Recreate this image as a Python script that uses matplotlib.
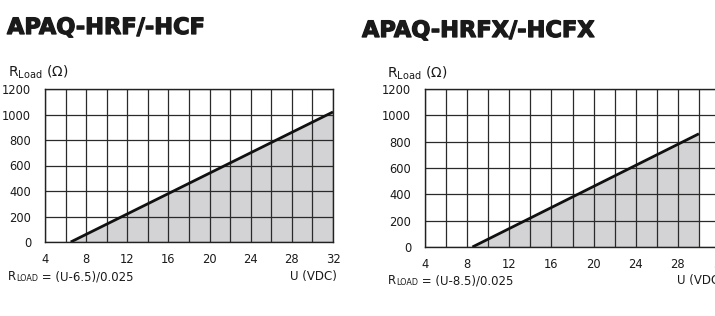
import matplotlib
matplotlib.use("Agg")
import matplotlib.pyplot as plt
import matplotlib.patheffects as pe

plt.rcParams['font.family'] = ['DejaVu Sans']

# data
titles = ["APAQ-HRF/-HCF", "APAQ-HRFX/-HCFX"]
formulas = [" = (U-6.5)/0.025", " = (U-8.5)/0.025"]
u_left = [6.5, 32]
r_left = [0, 1020]
u_right = [8.5, 30]
r_right = [0, 860]
x_ticks = [4, 8, 12, 16, 20, 24, 28, 32]
y_ticks = [0, 200, 400, 600, 800, 1000, 1200]

W, H = 715, 316
fig = plt.figure(figsize=(W / 100, H / 100), dpi=100)

def px(l, t, r, b):
    return [l / W, 1 - b / H, (r - l) / W, (b - t) / H]

axes_rects = [px(45, 89, 333, 242), px(425, 89, 720, 247)]
series = [(u_left, r_left), (u_right, r_right)]
title_pos = [(7, 28), (362, 31)]
ylab_pos = [(8, 72), (387, 73)]
form_pos = [(8, 280), (388, 284)]
ux_right = [337, 724]

fill_col = '#d3d3d6'
grid_col = '#2a2a2a'
txt_col = '#1a1a1a'

for i in range(2):
    ax = fig.add_axes(axes_rects[i])
    u, r = series[i]
    ax.fill_between(u, r, 0, color=fill_col, lw=0, zorder=1)
    ax.plot(u, r, color='#111111', lw=2.0, zorder=3, solid_capstyle='butt')
    ax.set_xlim(4, 32)
    ax.set_ylim(0, 1200)
    ax.set_xticks(range(4, 33, 2), minor=False)
    ax.set_yticks(y_ticks)
    ax.grid(True, color=grid_col, lw=0.9, zorder=2)
    ax.set_axisbelow(False)
    ax.set_xticklabels([str(v) if v in x_ticks else '' for v in range(4, 33, 2)])
    ax.tick_params(length=0, labelsize=8.3, colors=txt_col, pad=8)
    ax.tick_params(axis='y', pad=10)
    for s in ax.spines.values():
        s.set_color('#222222')
        s.set_linewidth(1.0)
        s.set_zorder(4)

    tx, ty = title_pos[i]
    fig.text(tx / W, 1 - ty / H, titles[i], fontsize=16.2, fontweight='bold',
             color=txt_col, va='center', ha='left',
             path_effects=[pe.withStroke(linewidth=0.9, foreground=txt_col)])
    lx, ly = ylab_pos[i]
    fig.text(lx / W, 1 - ly / H, r'R$_{\mathregular{Load}}$ ($\Omega$)', fontsize=10,
             color=txt_col, va='center', ha='left')
    fx, fy = form_pos[i]
    t1 = fig.text(fx / W, 1 - fy / H, 'R', fontsize=8.5, color=txt_col,
                  va='baseline', ha='left')
    a2 = fig.add_artist(matplotlib.text.Annotation('LOAD', xy=(1, 0), xycoords=t1,
                        fontsize=5.8, color=txt_col, va='bottom', ha='left'))
    fig.add_artist(matplotlib.text.Annotation(formulas[i], xy=(1, 0), xycoords=a2,
                   fontsize=8.5, color=txt_col, va='bottom', ha='left'))
    fig.text(ux_right[i] / W, 1 - fy / H, 'U (VDC)', fontsize=8.5, color=txt_col,
             va='baseline', ha='right')

fig.savefig('out.png', dpi=100)
